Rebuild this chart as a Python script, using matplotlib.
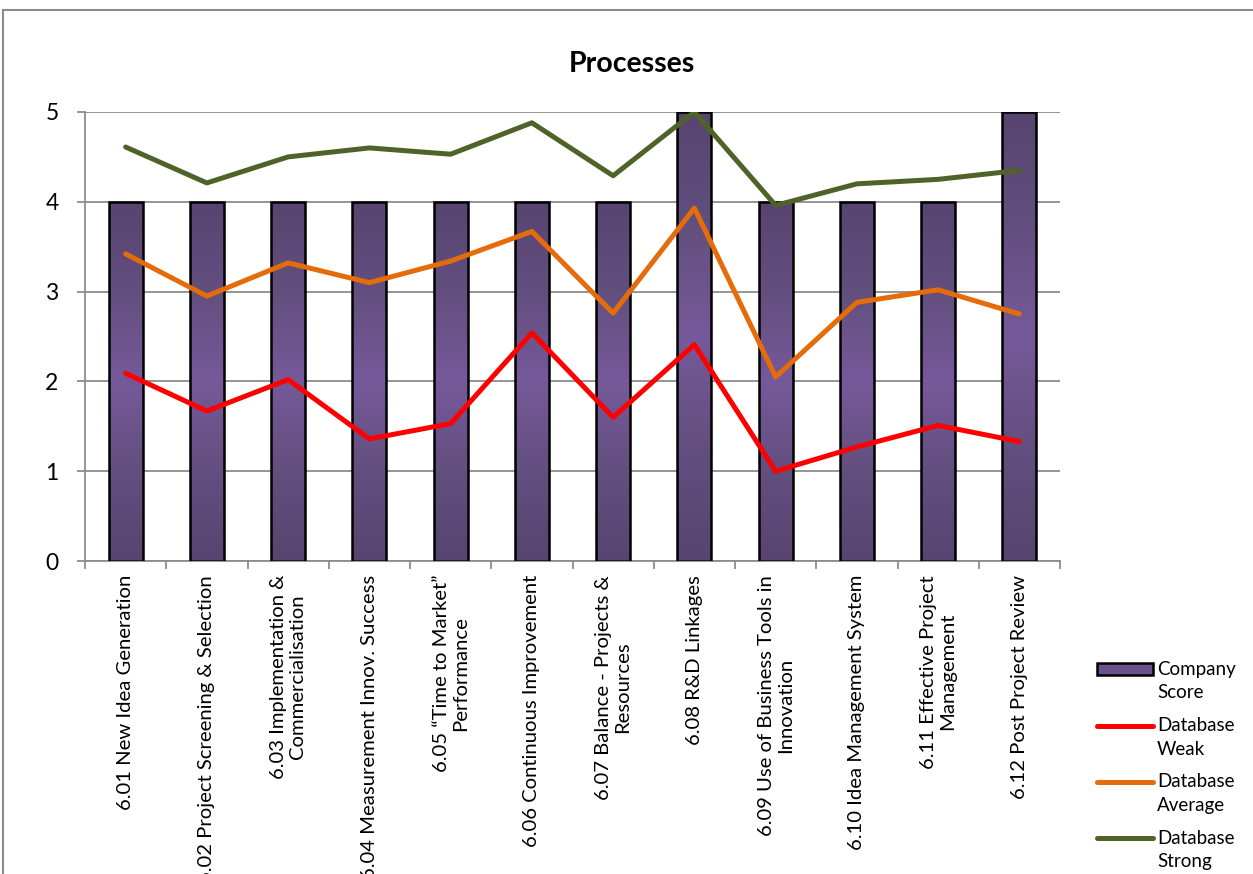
import numpy as np
import matplotlib
matplotlib.use("Agg")
import matplotlib.pyplot as plt
from matplotlib.colors import LinearSegmentedColormap
from matplotlib.patches import Rectangle
from matplotlib.lines import Line2D
from matplotlib.legend_handler import HandlerLine2D, HandlerPatch
from matplotlib.transforms import Affine2D

plt.rcParams['font.family'] = ['Lato', 'DejaVu Sans']

categories = [
    "6.01 New Idea Generation",
    "6.02 Project Screening & Selection",
    "6.03 Implementation &\nCommercialisation",
    "6.04 Measurement Innov. Success",
    "6.05 \u201cTime to Market\u201d\nPerformance",
    "6.06 Continuous Improvement",
    "6.07 Balance - Projects &\nResources",
    "6.08 R&D Linkages",
    "6.09 Use of Business Tools in\nInnovation",
    "6.10 Idea Management System",
    "6.11 Effective Project\nManagement",
    "6.12 Post Project Review",
]
company_score = [4, 4, 4, 4, 4, 4, 4, 5, 4, 4, 4, 5]
database_weak = [2.09, 1.67, 2.02, 1.36, 1.53, 2.54, 1.60, 2.41, 1.00, 1.27, 1.51, 1.33]
database_average = [3.42, 2.95, 3.32, 3.10, 3.34, 3.67, 2.76, 3.93, 2.05, 2.88, 3.02, 2.75]
database_strong = [4.61, 4.21, 4.50, 4.60, 4.53, 4.88, 4.29, 5.00, 3.96, 4.20, 4.25, 4.35]
y_ticks = [0, 1, 2, 3, 4, 5]

W, H = 1253, 874
fig = plt.figure(figsize=(W / 100, H / 100), dpi=100)
ax = fig.add_axes([85 / W, 1 - 561 / H, (1060 - 85) / W, (561 - 112) / H])

x = np.arange(len(categories))
bar_w = 0.42
grid_c = "#8c8c8c"

# purple bars with a dark-light-dark vertical gradient
purple = LinearSegmentedColormap.from_list(
    "purple_grad", ["#574470", "#634f7e", "#76599a", "#634f7e", "#574470"])
grad = np.linspace(0, 1, 256).reshape(-1, 1)
bars = ax.bar(x, company_score, width=bar_w, color="none", edgecolor="black",
              linewidth=1.8, zorder=3, label="Company\nScore")
for b in bars:
    x0, y0, w, h = b.get_x(), b.get_y(), b.get_width(), b.get_height()
    im = ax.imshow(grad, cmap=purple, aspect="auto", extent=(x0, x0 + w, y0, y0 + h),
                   origin="lower", zorder=2.5, interpolation="bilinear")
    im.set_clip_path(b)

line_kw = dict(linewidth=3.6, solid_capstyle="round", solid_joinstyle="round", zorder=4)
ax.plot(x, database_weak, color="#ff0000", label="Database\nWeak", **line_kw)
ax.plot(x, database_average, color="#e46c0a", label="Database\nAverage", **line_kw)
ax.plot(x, database_strong, color="#4f6228", label="Database\nStrong", **line_kw)

ax.set_xlim(-0.5, len(categories) - 0.5)
ax.set_ylim(0, 5)
ax.set_yticks(y_ticks)
ax.yaxis.grid(True, color=grid_c, linewidth=1.3, zorder=0)
ax.set_axisbelow(True)

for s in ("top", "right"):
    ax.spines[s].set_visible(False)
for s in ("left", "bottom"):
    ax.spines[s].set_color(grid_c)
    ax.spines[s].set_linewidth(1.3)

ax.tick_params(axis="y", direction="out", length=6, width=1.3, color=grid_c,
               labelsize=16.5, pad=13)
ax.set_xticks(np.arange(-0.5, len(categories), 1.0))
ax.set_xticklabels([])
ax.tick_params(axis="x", which="major", direction="out", length=6, width=1.3, color=grid_c)
ax.set_xticks(x, minor=True)
ax.set_xticklabels(categories, minor=True, rotation=90, fontsize=14.6,
                   multialignment="center", linespacing=1.15)
ax.tick_params(axis="x", which="minor", length=0, pad=10)

fig.text(632 / W, 1 - 64 / H, "Processes", ha="center", va="center",
         fontsize=20.5, fontweight="bold")


# legend keys sit level with the first line of each two-line label
RAISE = 9.0


class RaisedLine(HandlerLine2D):
    def create_artists(self, legend, orig_handle, xdescent, ydescent, width, height,
                       fontsize, trans):
        return super().create_artists(legend, orig_handle, xdescent, ydescent, width,
                                      height, fontsize, Affine2D().translate(0, RAISE) + trans)


class RaisedPatch(HandlerPatch):
    def create_artists(self, legend, orig_handle, xdescent, ydescent, width, height,
                       fontsize, trans):
        return super().create_artists(legend, orig_handle, xdescent, ydescent, width,
                                      height, fontsize, Affine2D().translate(0, RAISE) + trans)


handles = [
    Rectangle((0, 0), 1, 1, facecolor="#6a528a", edgecolor="black", linewidth=1.8),
    Line2D([], [], color="#ff0000", linewidth=3.6, solid_capstyle="round"),
    Line2D([], [], color="#e46c0a", linewidth=3.6, solid_capstyle="round"),
    Line2D([], [], color="#4f6228", linewidth=3.6, solid_capstyle="round"),
]
labels = ["Company\nScore", "Database\nWeak", "Database\nAverage", "Database\nStrong"]
leg = fig.legend(handles, labels, loc="upper left", bbox_to_anchor=(1097 / W, 1 - 661 / H),
                 frameon=False, fontsize=13.5, handlelength=3.0, handleheight=0.6,
                 handletextpad=0.2, labelspacing=0.85, borderaxespad=0, borderpad=0,
                 handler_map={Line2D: RaisedLine(), Rectangle: RaisedPatch()})
for t in leg.get_texts():
    t.set_linespacing(1.45)

# chart area border
fig.add_artist(Rectangle((3 / W, -0.1), 1.2, 1.1 - 10 / H, transform=fig.transFigure,
                         fill=False, edgecolor="#8c8c8c", linewidth=1.5))

fig.savefig("out.png", dpi=100)
